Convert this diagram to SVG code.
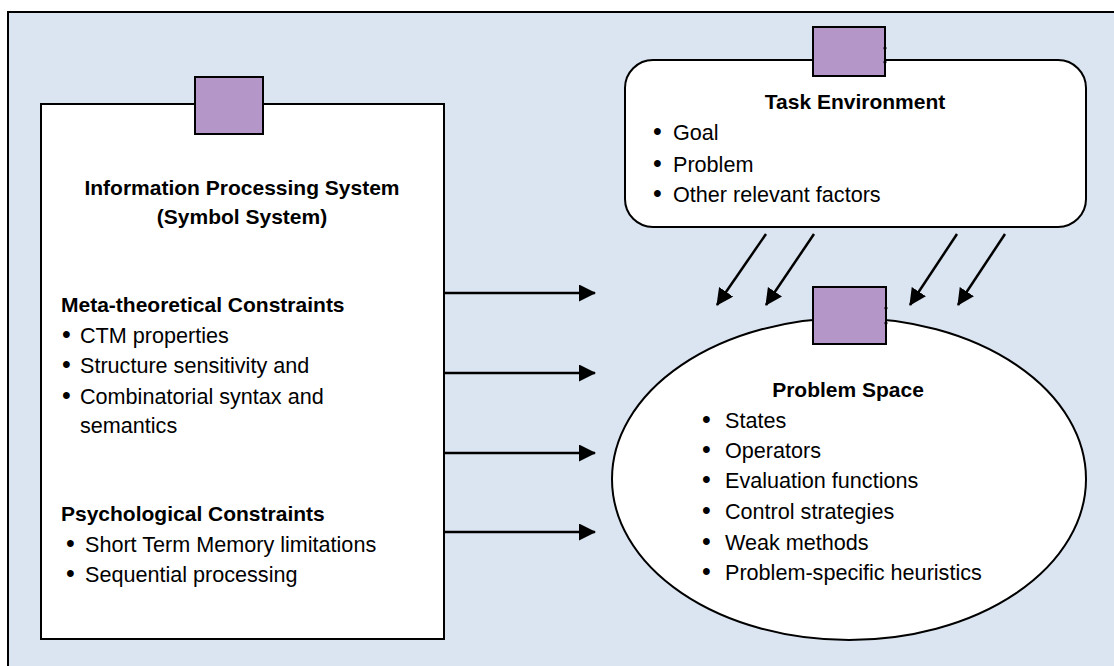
<svg xmlns="http://www.w3.org/2000/svg" width="1114" height="666" viewBox="0 0 1114 666">
  <style>
    .frame { fill: #dbe5f1; stroke: #000; stroke-width: 2; }
    .box { fill: #fff; stroke: #000; stroke-width: 2; }
    .port { fill: #b596c8; stroke: #000; stroke-width: 2; }
    .pin { fill: #000; }
    .title { font-family: "Liberation Sans", Arial, sans-serif; font-weight: bold; font-size: 21px; fill: #000; }
    .item { font-family: "Liberation Sans", Arial, sans-serif; font-size: 21.6px; fill: #000; }
    .dot { font-size: 25px; }
    .mid { text-anchor: middle; }
    .link { fill: none; stroke: #000; stroke-width: 2.5; marker-end: url(#head); }
  </style>
  <defs>
    <marker id="head" markerUnits="userSpaceOnUse" markerWidth="17" markerHeight="18" refX="16" refY="8.5" orient="auto">
      <path d="M0,0 L17,8.5 L0,17 Z" fill="#000"/>
    </marker>
  </defs>

  <!-- background panel -->
  <rect class="frame" x="8" y="12" width="1130" height="680"/>

  <!-- connectors -->
  <g id="connectors">
    <line class="link" x1="444" y1="293" x2="595" y2="293"/>
    <line class="link" x1="444" y1="373" x2="595" y2="373"/>
    <line class="link" x1="444" y1="453" x2="595" y2="453"/>
    <line class="link" x1="444" y1="532" x2="595" y2="532"/>
    <line class="link" x1="766" y1="234" x2="717" y2="305"/>
    <line class="link" x1="814" y1="234" x2="766" y2="305"/>
    <line class="link" x1="957" y1="234" x2="910" y2="305"/>
    <line class="link" x1="1005" y1="234" x2="958" y2="305"/>
  </g>

  <!-- Information Processing System -->
  <g id="ips">
    <rect class="box" x="41" y="104" width="403" height="535"/>
    <rect class="port" x="195" y="77" width="68" height="57"/>
    <text class="title mid" x="242" y="195">Information Processing System</text>
    <text class="title mid" x="242" y="224">(Symbol System)</text>
    <text class="title" x="61" y="312">Meta-theoretical Constraints</text>
    <text class="item" y="343"><tspan class="dot" x="62">•</tspan><tspan x="80">CTM properties</tspan></text>
    <text class="item" y="373"><tspan class="dot" x="62">•</tspan><tspan x="80">Structure sensitivity and</tspan></text>
    <text class="item" y="404"><tspan class="dot" x="62">•</tspan><tspan x="80">Combinatorial syntax and</tspan></text>
    <text class="item" x="80" y="433">semantics</text>
    <text class="title" x="61" y="521">Psychological Constraints</text>
    <text class="item" y="552"><tspan class="dot" x="66">•</tspan><tspan x="85">Short Term Memory limitations</tspan></text>
    <text class="item" y="582"><tspan class="dot" x="66">•</tspan><tspan x="85">Sequential processing</tspan></text>
  </g>

  <!-- Task Environment -->
  <g id="task-environment">
    <rect class="box" x="625" y="60" width="461" height="167" rx="28" ry="28"/>
    <rect class="port" x="813" y="27" width="72" height="49"/>
    <circle class="pin" cx="885" cy="48" r="1.6"/>
    <circle class="pin" cx="885" cy="62" r="1.6"/>
    <text class="title mid" x="855" y="109">Task Environment</text>
    <text class="item" y="140"><tspan class="dot" x="653">•</tspan><tspan x="673">Goal</tspan></text>
    <text class="item" y="172"><tspan class="dot" x="653">•</tspan><tspan x="673">Problem</tspan></text>
    <text class="item" y="202"><tspan class="dot" x="653">•</tspan><tspan x="673">Other relevant factors</tspan></text>
  </g>

  <!-- Problem Space -->
  <g id="problem-space">
    <ellipse class="box" cx="849" cy="479" rx="237" ry="161" stroke-width="1.6"/>
    <rect class="port" x="813" y="287" width="73" height="57"/>
    <circle class="pin" cx="886" cy="308" r="1.6"/>
    <circle class="pin" cx="886" cy="323" r="1.6"/>
    <text class="title mid" x="848" y="397">Problem Space</text>
    <text class="item" y="428"><tspan class="dot" x="702">•</tspan><tspan x="725">States</tspan></text>
    <text class="item" y="458"><tspan class="dot" x="702">•</tspan><tspan x="725">Operators</tspan></text>
    <text class="item" y="488"><tspan class="dot" x="702">•</tspan><tspan x="725">Evaluation functions</tspan></text>
    <text class="item" y="519"><tspan class="dot" x="702">•</tspan><tspan x="725">Control strategies</tspan></text>
    <text class="item" y="550"><tspan class="dot" x="702">•</tspan><tspan x="725">Weak methods</tspan></text>
    <text class="item" y="580"><tspan class="dot" x="702">•</tspan><tspan x="725">Problem-specific heuristics</tspan></text>
  </g>
</svg>
